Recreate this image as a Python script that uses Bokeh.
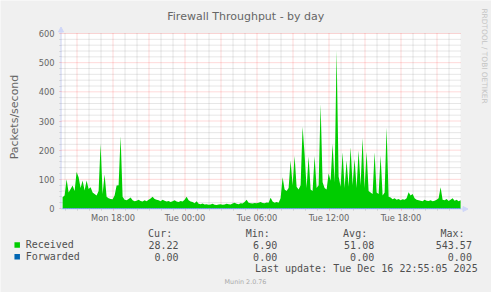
import math
from bokeh.plotting import figure
from bokeh.models import Range1d, FixedTicker, Label, Arrow, NormalHead, LinearAxis
from bokeh.embed import file_html
from bokeh.resources import INLINE

# ---------------- data ----------------
START_HOUR = 13.0 + 48 / 60.0      # first sample, hours after Mon 00:00
STEP_HOURS = 10 / 60.0             # 10-minute samples

received = [
    39, 45, 100, 55, 67, 79, 60, 125, 107, 70,
    96, 62, 96, 67, 73, 55, 50, 45, 60, 222,
    50, 117, 40, 35, 33, 32, 45, 79, 80, 248,
    40, 30, 28, 33, 38, 28, 25, 27, 30, 26,
    24, 28, 25, 30, 34, 40, 33, 30, 28, 25,
    30, 27, 24, 26, 22, 25, 28, 24, 22, 26,
    24, 30, 40, 28, 24, 22, 18, 25, 16, 15,
    17, 14, 15, 13, 14, 16, 13, 12, 14, 15,
    13, 14, 16, 15, 14, 17, 20, 16, 15, 18,
    17, 22, 30, 20, 18, 17, 19, 18, 20, 22,
    19, 18, 21, 20, 37, 24, 20, 22, 20, 35,
    107, 65, 60, 70, 165, 80, 180, 75, 65, 80,
    280, 185, 70, 178, 65, 60, 180, 70, 80, 358,
    90, 70, 65, 120, 95, 222, 90, 543, 110, 75,
    193, 70, 165, 75, 210, 80, 170, 70, 199, 80,
    242, 70, 195, 60, 55, 50, 193, 55, 50, 182,
    45, 55, 278, 40, 38, 32, 35, 30, 33, 28,
    32, 30, 35, 56, 45, 50, 35, 30, 28, 27,
    25, 30, 27, 26, 28, 25, 27, 30, 35, 73,
    30, 28, 33, 26, 30, 35, 27, 30, 25, 28,
]
forwarded = [0.0] * len(received)   # Forwarded stays at 0.00 all day
times = [START_HOUR + i * STEP_HOURS for i in range(len(received))]

y_ticks = [0, 100, 200, 300, 400, 500, 600]
y_major_grid = [100, 200, 300, 400, 500, 600]
y_minor_grid = [v for v in range(20, 601, 20) if v % 100]
x_label_hours = [18, 24, 30, 36, 42]
x_label_text = ["Mon 18:00", "Tue 00:00", "Tue 06:00", "Tue 12:00", "Tue 18:00"]
x_major_grid = list(range(15, 46, 3))
x_minor_grid = [h for h in range(14, 47) if h % 3]

series_names = ["Received", "Forwarded"]
series_colors = ["#00CC00", "#0066B3"]
stat_headers = ["Cur:", "Min:", "Avg:", "Max:"]
stat_values = [["28.22", "6.90", "51.08", "543.57"],
               ["0.00", "0.00", "0.00", "0.00"]]
title_text = "Firewall Throughput - by day"
y_title = "Packets/second"
last_update = "Last update: Tue Dec 16 22:55:05 2025"
footer = "Munin 2.0.76"
watermark = "RRDTOOL / TOBI OETIKER"

# ---------------- layout ----------------
W, H = 491, 292
FL, FR, FT, FB = 61, 460, 33, 208          # plot area in canvas pixels
PX_PER_HOUR = 12.0
X_START = 18 - (112.5 - FL) / PX_PER_HOUR
X_END = X_START + (FR - FL) / PX_PER_HOUR
Y_TOP = 600


def px_x(px):
    return X_START + (px - FL) / PX_PER_HOUR


def px_y(py):
    return (FB - py) * Y_TOP / (FB - FT)


# the frame spans the whole canvas; the data area is a sub-region of it
p = figure(width=W, height=H, output_backend="svg", toolbar_location=None,
           title=None, x_range=Range1d(px_x(0), px_x(W)),
           y_range=Range1d(px_y(H), px_y(0)),
           x_axis_location=None, y_axis_location=None,
           min_border=0, min_border_left=0, min_border_right=0,
           min_border_top=0, min_border_bottom=0,
           background_fill_color="#F0F0F0", border_fill_color="#F0F0F0",
           outline_line_color=None)
p.grid.visible = False

# white canvas of the graph
p.quad(left=[X_START], right=[X_END], bottom=[0], top=[Y_TOP],
       fill_color="#FFFFFF", line_color=None)

GRID_RED = "#FF0000"
GRID_GRAY = "#8C8C8C"
RED_ALPHA = 0.3
GRAY_ALPHA = 0.42
# minor grid
p.segment(x0=x_minor_grid, x1=x_minor_grid, y0=[0] * len(x_minor_grid),
          y1=[Y_TOP] * len(x_minor_grid), line_color=GRID_GRAY, line_alpha=GRAY_ALPHA,
          line_dash="1 1", line_width=1)
p.segment(x0=[X_START] * len(y_minor_grid), x1=[X_END] * len(y_minor_grid),
          y0=y_minor_grid, y1=y_minor_grid, line_color=GRID_GRAY, line_alpha=GRAY_ALPHA,
          line_dash="1 1", line_width=1)
# major grid
p.segment(x0=x_major_grid, x1=x_major_grid, y0=[0] * len(x_major_grid),
          y1=[Y_TOP] * len(x_major_grid), line_color=GRID_RED, line_alpha=RED_ALPHA,
          line_dash="1 1", line_width=1)
p.segment(x0=[X_START] * len(y_major_grid), x1=[X_END] * len(y_major_grid),
          y0=y_major_grid, y1=y_major_grid, line_color=GRID_RED, line_alpha=RED_ALPHA,
          line_dash="1 1", line_width=1)

# data
p.varea(x=times, y1=0, y2=received, fill_color=series_colors[0])
p.line(x=times, y=forwarded, line_color=series_colors[1], line_width=1)

# axes fixed at the edges of the graph area
yaxis = LinearAxis(fixed_location=X_START,
                   ticker=FixedTicker(ticks=y_ticks, minor_ticks=y_minor_grid))
xaxis = LinearAxis(fixed_location=0,
                   ticker=FixedTicker(ticks=x_label_hours,
                                      minor_ticks=[h for h in range(14, 47)
                                                   if h not in x_label_hours]))
xaxis.major_label_overrides = dict(zip(x_label_hours, x_label_text))
for ax in (xaxis, yaxis):
    ax.axis_line_color = None
    ax.major_label_text_font = "DejaVu Sans"
    ax.major_label_text_font_size = "8.3px"
    ax.major_label_text_color = "#666666"
    ax.major_tick_in = 0
    ax.major_tick_out = 2
    ax.minor_tick_in = 0
    ax.minor_tick_out = 2
    ax.major_tick_line_color = GRID_RED
    ax.major_tick_line_alpha = RED_ALPHA
    ax.minor_tick_line_color = GRID_GRAY
    ax.minor_tick_line_alpha = GRAY_ALPHA
yaxis.major_label_standoff = 5
xaxis.major_label_standoff = 2
p.add_layout(yaxis, "left")
p.add_layout(xaxis, "below")

AXIS_C = "#CFD6F8"
p.add_layout(Arrow(x_start=px_x(60.5), y_start=px_y(208.5), x_end=px_x(60.5),
                   y_end=px_y(26.5), line_color=AXIS_C, line_width=1,
                   end=NormalHead(size=5, fill_color=AXIS_C, line_color=AXIS_C)))
p.add_layout(Arrow(x_start=px_x(60.5), y_start=px_y(208.5), x_end=px_x(467.5),
                   y_end=px_y(208.5), line_color=AXIS_C, line_width=1,
                   end=NormalHead(size=5, fill_color=AXIS_C, line_color=AXIS_C)))

# texts around the chart
p.add_layout(Label(x=px_x(245.3), y=px_y(16), text=title_text, text_align="center",
                   text_baseline="alphabetic", text_font="DejaVu Sans",
                   text_font_size="11px", text_color="#666666"))
p.add_layout(Label(x=px_x(13.7), y=px_y(116.5), text=y_title, angle=math.pi / 2,
                   text_align="center", text_baseline="alphabetic",
                   text_font="DejaVu Sans", text_font_size="11px", text_color="#666666"))
p.add_layout(Label(x=px_x(484), y=px_y(55.5), text=watermark, angle=-math.pi / 2,
                   text_align="center", text_baseline="middle",
                   text_font="DejaVu Sans", text_font_size="7.4px", text_color="#C4C4C4"))
p.add_layout(Label(x=px_x(245), y=px_y(281), text=footer, text_align="center",
                   text_baseline="middle", text_font="DejaVu Sans",
                   text_font_size="6.4px", text_color="#AAAAAA"))

# legend
MONO = "DejaVu Sans Mono"
LEG_C = "#505050"
header_x = [147.6, 245.3, 342.6, 440.0]
value_right = [178.0, 276.7, 373.7, 471.4]
row_y = [244.4, 256.2]
for hx, htxt in zip(header_x, stat_headers):
    p.add_layout(Label(x=px_x(hx), y=px_y(233.3), text=htxt, text_align="left",
                       text_baseline="middle", text_font=MONO, text_font_size="10px",
                       text_color=LEG_C))
for ry, name, vals in zip(row_y, series_names, stat_values):
    p.add_layout(Label(x=px_x(25.2), y=px_y(ry), text=name, text_align="left",
                       text_baseline="middle", text_font=MONO, text_font_size="10px",
                       text_color=LEG_C))
    for vx, v in zip(value_right, vals):
        p.add_layout(Label(x=px_x(vx), y=px_y(ry), text=v, text_align="right",
                           text_baseline="middle", text_font=MONO,
                           text_font_size="10px", text_color=LEG_C))
p.scatter(x=[px_x(16.7)] * 2, y=[px_y(y) for y in row_y], marker="square", size=5.5,
          fill_color=series_colors, line_color=None)
p.add_layout(Label(x=px_x(254.4), y=px_y(268.3), text=last_update, text_align="left",
                   text_baseline="middle", text_font=MONO, text_font_size="10px",
                   text_color=LEG_C))

open("out.html", "w").write(file_html(p, INLINE))
